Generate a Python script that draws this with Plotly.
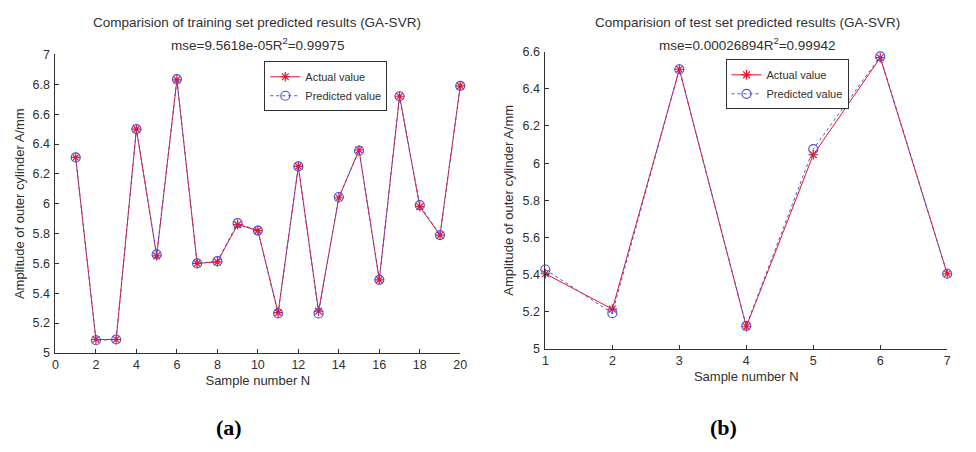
import plotly.graph_objects as go

# Training set (a)
train_n = list(range(1, 21))
train_actual = [6.31, 5.09, 5.09, 6.50, 5.65, 6.83, 5.60, 5.61, 5.86, 5.82,
                5.27, 6.25, 5.28, 6.04, 6.36, 5.49, 6.72, 5.98, 5.79, 6.79]
train_pred = [6.31, 5.085, 5.09, 6.50, 5.66, 6.835, 5.60, 5.615, 5.87, 5.82,
              5.265, 6.25, 5.265, 6.045, 6.355, 5.49, 6.72, 5.99, 5.79, 6.79]

# Test set (b)
test_n = list(range(1, 8))
test_actual = [5.405, 5.215, 6.505, 5.12, 6.045, 6.567, 5.405]
test_pred = [5.428, 5.193, 6.505, 5.125, 6.075, 6.574, 5.405]

left_x_ticks = list(range(0, 21, 2))
left_y_ticks = [5, 5.2, 5.4, 5.6, 5.8, 6, 6.2, 6.4, 6.6, 6.8, 7]
right_x_ticks = list(range(1, 8))
right_y_ticks = [5, 5.2, 5.4, 5.6, 5.8, 6, 6.2, 6.4, 6.6]

W, H = 976, 452
AX = "#303030"
FONT = "Liberation Sans, Arial, sans-serif"
RED = "#e8132b"
BLUE = "#3d3dd8"

def px(x):
    return x / W

def py(y):
    return (H - y) / H

fig = go.Figure()

def add_pair(xs, act, pred, xa, ya, leg):
    fig.add_trace(go.Scatter(x=xs, y=act, mode="lines+markers", name="Actual value",
                             line=dict(color=RED, width=1), cliponaxis=False,
                             marker=dict(symbol="asterisk-open", size=8, line=dict(color=RED, width=1.2)),
                             xaxis=xa, yaxis=ya, legend=leg))
    fig.add_trace(go.Scatter(x=xs, y=pred, mode="lines+markers", name="Predicted value",
                             line=dict(color="#5050d8", width=1, dash="dot"), cliponaxis=False,
                             marker=dict(symbol="circle-open", size=9, line=dict(color=BLUE, width=1.2)),
                             xaxis=xa, yaxis=ya, legend=leg))

add_pair(train_n, train_actual, train_pred, "x", "y", "legend")
add_pair(test_n, test_actual, test_pred, "x2", "y2", "legend2")

axis_common = dict(showline=True, linecolor=AX, linewidth=1, mirror=False, showgrid=False,
                   zeroline=False, ticks="inside", ticklen=4, tickcolor=AX,
                   tickfont=dict(family=FONT, size=12.5, color=AX))
xaxis_common = dict(axis_common)
yaxis_common = dict(axis_common, ticklabelstandoff=2)
title_font = dict(family=FONT, size=13, color=AX)
legend_common = dict(xanchor="left", yanchor="top", bgcolor="white",
                     bordercolor=AX, borderwidth=1, font=dict(family=FONT, size=11, color=AX),
                     tracegroupgap=0, itemwidth=30)

fig.update_layout(
    width=W, height=H,
    margin=dict(l=0, r=0, t=0, b=0),
    paper_bgcolor="white", plot_bgcolor="white",
    xaxis=dict(domain=[px(53), px(462)], range=[0, 20], tickvals=left_x_ticks,
               title=dict(text="Sample number N", font=title_font, standoff=4), anchor="y", **xaxis_common),
    yaxis=dict(domain=[py(357), py(49)], range=[5, 7], tickvals=left_y_ticks,
               title=dict(text="Amplitude of outer cylinder A/mm", font=title_font, standoff=5), anchor="x", **yaxis_common),
    xaxis2=dict(domain=[px(548), px(954)], range=[1, 7], tickvals=right_x_ticks,
                title=dict(text="Sample number N", font=title_font, standoff=4), anchor="y2", **xaxis_common),
    yaxis2=dict(domain=[py(353), py(46)], range=[5, 6.6], tickvals=right_y_ticks,
                title=dict(text="Amplitude of outer cylinder A/mm", font=title_font, standoff=5), anchor="x2", **yaxis_common),
    legend=dict(x=px(264), y=py(56), **legend_common),
    legend2=dict(x=px(730), y=py(54), **legend_common),
    showlegend=True,
)

annotations = [
    dict(text="Comparision of training set predicted results (GA-SVR)", x=px(257), y=py(16)),
    dict(text="mse=9.5618e-05R<sup>2</sup>=0.99975", x=px(257), y=py(38)),
    dict(text="Comparision of test set predicted results (GA-SVR)", x=px(752), y=py(16)),
    dict(text="mse=0.00026894R<sup>2</sup>=0.99942", x=px(752), y=py(38)),
]
for a in annotations:
    fig.add_annotation(xref="paper", yref="paper", showarrow=False, xanchor="center", yanchor="middle",
                       font=dict(family=FONT, size=13.5, color=AX), **a)

for lab, xc in [("(a)", 228), ("(b)", 728)]:
    fig.add_annotation(text="<b>" + lab + "</b>", xref="paper", yref="paper", x=px(xc), y=py(434),
                       showarrow=False, xanchor="center", yanchor="middle",
                       font=dict(family="Liberation Serif, Times New Roman, serif", size=22, color="black"))

fig.write_html("out.html", config={"displayModeBar": False},
               post_script="document.body.style.margin='0';")
